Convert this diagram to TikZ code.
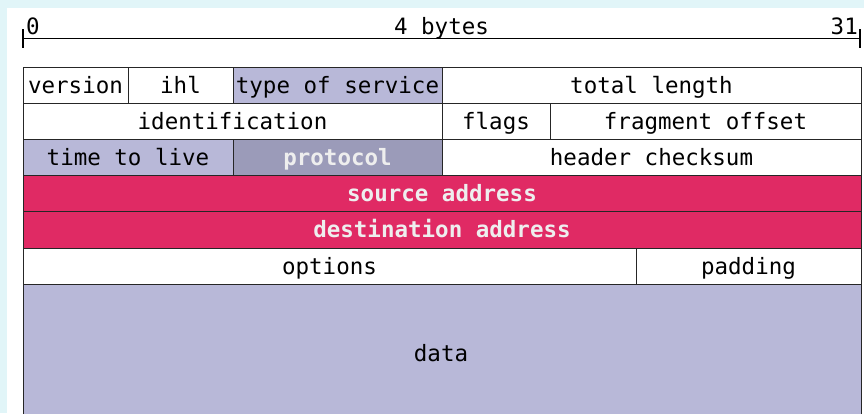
\documentclass[tikz,border=0pt]{standalone}
\usepackage{fontspec}
\setmonofont{DejaVu Sans Mono}
\usetikzlibrary{positioning,calc}

\definecolor{pagebg}{HTML}{E1F5F8}
\definecolor{lavfill}{HTML}{B8B8D8}
\definecolor{protofill}{HTML}{9B9BB9}
\definecolor{addrfill}{HTML}{E02A64}
\definecolor{lighttext}{HTML}{EEEEEE}

\begin{document}
\begin{tikzpicture}[x=1pt,y=-1pt,
	field/.style={draw=black!85,line width=1pt,inner sep=0pt,minimum height=36.2pt,text height=19pt,text depth=3pt,font=\ttfamily\fontsize{22.5}{26}\selectfont},
	plainfld/.style={fill=white},
	lavfld/.style={fill=lavfill},
	protofld/.style={fill=protofill,text=lighttext,font=\ttfamily\bfseries\fontsize{22.5}{26}\selectfont},
	addrfld/.style={fill=addrfill,text=lighttext,font=\ttfamily\bfseries\fontsize{22.5}{26}\selectfont},
	rulertext/.style={inner sep=0pt,font=\ttfamily\fontsize{22.5}{26}\selectfont}]
									\clip (0,0) rectangle (864,413);
									\fill[pagebg] (0,0) rectangle (864,413);
									\fill[white] (7,8) rectangle (864,413);
									
									% ruler
									\coordinate (L) at (23,38.5);
									\coordinate (R) at (860,38.5);
									\draw[line width=1.6pt] (L) -- (R);
									\draw[line width=1.6pt] ([yshift=-9pt]L) -- ([yshift=10pt]L);
									\draw[line width=1.6pt] ([yshift=-9pt]R) -- ([yshift=10pt]R);
									\node[rulertext,anchor=base west] (zero) at ([xshift=3pt,yshift=4pt]L) {0};
									\node[rulertext,anchor=base east] (last) at ([xshift=-2pt,yshift=4pt]R) {31};
									\node[rulertext,anchor=base] (width) at ([yshift=4pt]$(L)!0.5!(R)$) {4 bytes};
									
									% header fields
									\foreach \a/\b/\r/\s/\t [count=\n] in
									{23/128/0/plainfld/version, 128/233/0/plainfld/ihl, 233/442/0/lavfld/type of service, 442/861/0/plainfld/total length,
									 23/442/1/plainfld/identification, 442/550/1/plainfld/flags, 550/861/1/plainfld/fragment offset,
									 23/233/2/lavfld/time to live, 233/442/2/protofld/protocol, 442/861/2/plainfld/header checksum,
									 23/861/3/addrfld/source address, 23/861/4/addrfld/destination address,
									 23/636/5/plainfld/options, 636/861/5/plainfld/padding}
										\node[field,\s,minimum width={(\b-\a)*1pt}] (F\n) at ({(\a+\b)/2},{67+36.2*\r+18.1}) {\t};
									
									\node[field,lavfld,minimum width=838pt,minimum height=140pt,anchor=north west] (data) at (23,284.2) {};
									\node[rulertext] (datatext) at (441,353) {data};
\end{tikzpicture}
\end{document}
